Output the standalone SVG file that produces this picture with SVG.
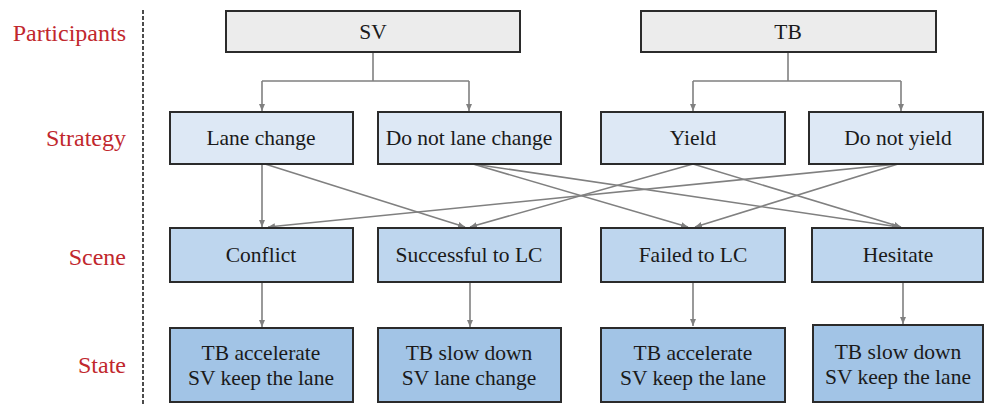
<svg xmlns="http://www.w3.org/2000/svg" width="984" height="404" viewBox="0 0 984 404">
<style>
.lbl{font-family:"Liberation Serif","Times New Roman",serif;font-size:24px;fill:#c1272d;text-anchor:end}
.box{stroke:#2b2b2b;stroke-width:2}
.p{fill:#ececec}
.s{fill:#dde8f5}
.c{fill:#bed6ee}
.t{fill:#a2c4e6}
.tx{font-family:"Liberation Serif","Times New Roman",serif;font-size:21.5px;fill:#1a1a1a;text-anchor:middle}
.cn{fill:none;stroke:#808080;stroke-width:1.6}
</style>
<defs>
<marker id="ah" markerWidth="8" markerHeight="8" refX="7" refY="4" orient="auto" markerUnits="userSpaceOnUse">
<path d="M0,1 L7,4 L0,7 Z" fill="#808080"/>
</marker>
</defs>
<rect width="984" height="404" fill="#ffffff"/>
<g id="labels">
<text class="lbl" x="126" y="41">Participants</text>
<text class="lbl" x="126" y="146">Strategy</text>
<text class="lbl" x="126" y="265">Scene</text>
<text class="lbl" x="126" y="373">State</text>
<line x1="143" y1="10" x2="143" y2="404" stroke="#111" stroke-width="1.5" stroke-dasharray="4 2"/>
</g>
<g id="connectors">
<path class="cn" d="M373,52 V81 M262,81 H469 M788,52 V81 M693,81 H901"/>
<line class="cn" x1="262" y1="81" x2="262" y2="111" marker-end="url(#ah)"/>
<line class="cn" x1="469" y1="81" x2="469" y2="111" marker-end="url(#ah)"/>
<line class="cn" x1="693" y1="81" x2="693" y2="111" marker-end="url(#ah)"/>
<line class="cn" x1="901" y1="81" x2="901" y2="111" marker-end="url(#ah)"/>
<line class="cn" x1="262" y1="164" x2="262" y2="227" marker-end="url(#ah)"/>
<line class="cn" x1="265" y1="164" x2="465" y2="227" marker-end="url(#ah)"/>
<line class="cn" x1="473" y1="164" x2="688" y2="227" marker-end="url(#ah)"/>
<line class="cn" x1="473" y1="164" x2="899" y2="227" marker-end="url(#ah)"/>
<line class="cn" x1="693" y1="164" x2="470" y2="227" marker-end="url(#ah)"/>
<line class="cn" x1="693" y1="164" x2="901" y2="227" marker-end="url(#ah)"/>
<line class="cn" x1="898" y1="164" x2="268" y2="227" marker-end="url(#ah)"/>
<line class="cn" x1="898" y1="164" x2="695" y2="227" marker-end="url(#ah)"/>
<line class="cn" x1="262" y1="282" x2="262" y2="327" marker-end="url(#ah)"/>
<line class="cn" x1="470" y1="282" x2="470" y2="327" marker-end="url(#ah)"/>
<line class="cn" x1="693" y1="282" x2="693" y2="326" marker-end="url(#ah)"/>
<line class="cn" x1="903" y1="282" x2="903" y2="324" marker-end="url(#ah)"/>
</g>
<g id="sv"><rect class="box p" x="226" y="11" width="294" height="41"/><text class="tx" x="373" y="39">SV</text></g>
<g id="tb"><rect class="box p" x="641" y="11" width="295" height="41"/><text class="tx" x="788" y="39">TB</text></g>
<g id="lane-change"><rect class="box s" x="170" y="112" width="183" height="52"/><text class="tx" x="261" y="145">Lane change</text></g>
<g id="do-not-lane-change"><rect class="box s" x="378" y="112" width="183" height="52"/><text class="tx" x="469" y="145">Do not lane change</text></g>
<g id="yield"><rect class="box s" x="601" y="112" width="184" height="52"/><text class="tx" x="693" y="145">Yield</text></g>
<g id="do-not-yield"><rect class="box s" x="809" y="112" width="174" height="52"/><text class="tx" x="898" y="145">Do not yield</text></g>
<g id="conflict"><rect class="box c" x="170" y="228" width="183" height="54"/><text class="tx" x="261" y="262">Conflict</text></g>
<g id="successful"><rect class="box c" x="378" y="228" width="183" height="54"/><text class="tx" x="469" y="262">Successful to LC</text></g>
<g id="failed"><rect class="box c" x="601" y="228" width="184" height="54"/><text class="tx" x="693" y="262">Failed to LC</text></g>
<g id="hesitate"><rect class="box c" x="812" y="228" width="171" height="54"/><text class="tx" x="898" y="262">Hesitate</text></g>
<g id="state1"><rect class="box t" x="170" y="328" width="183" height="74"/><text class="tx" x="261" y="360">TB accelerate</text><text class="tx" x="261" y="385">SV keep the lane</text></g>
<g id="state2"><rect class="box t" x="378" y="328" width="183" height="74"/><text class="tx" x="469" y="360">TB slow down</text><text class="tx" x="469" y="385">SV lane change</text></g>
<g id="state3"><rect class="box t" x="601" y="328" width="184" height="74"/><text class="tx" x="693" y="360">TB accelerate</text><text class="tx" x="693" y="385">SV keep the lane</text></g>
<g id="state4"><rect class="box t" x="813" y="325" width="170" height="77"/><text class="tx" x="898" y="359">TB slow down</text><text class="tx" x="898" y="384">SV keep the lane</text></g>
</svg>
